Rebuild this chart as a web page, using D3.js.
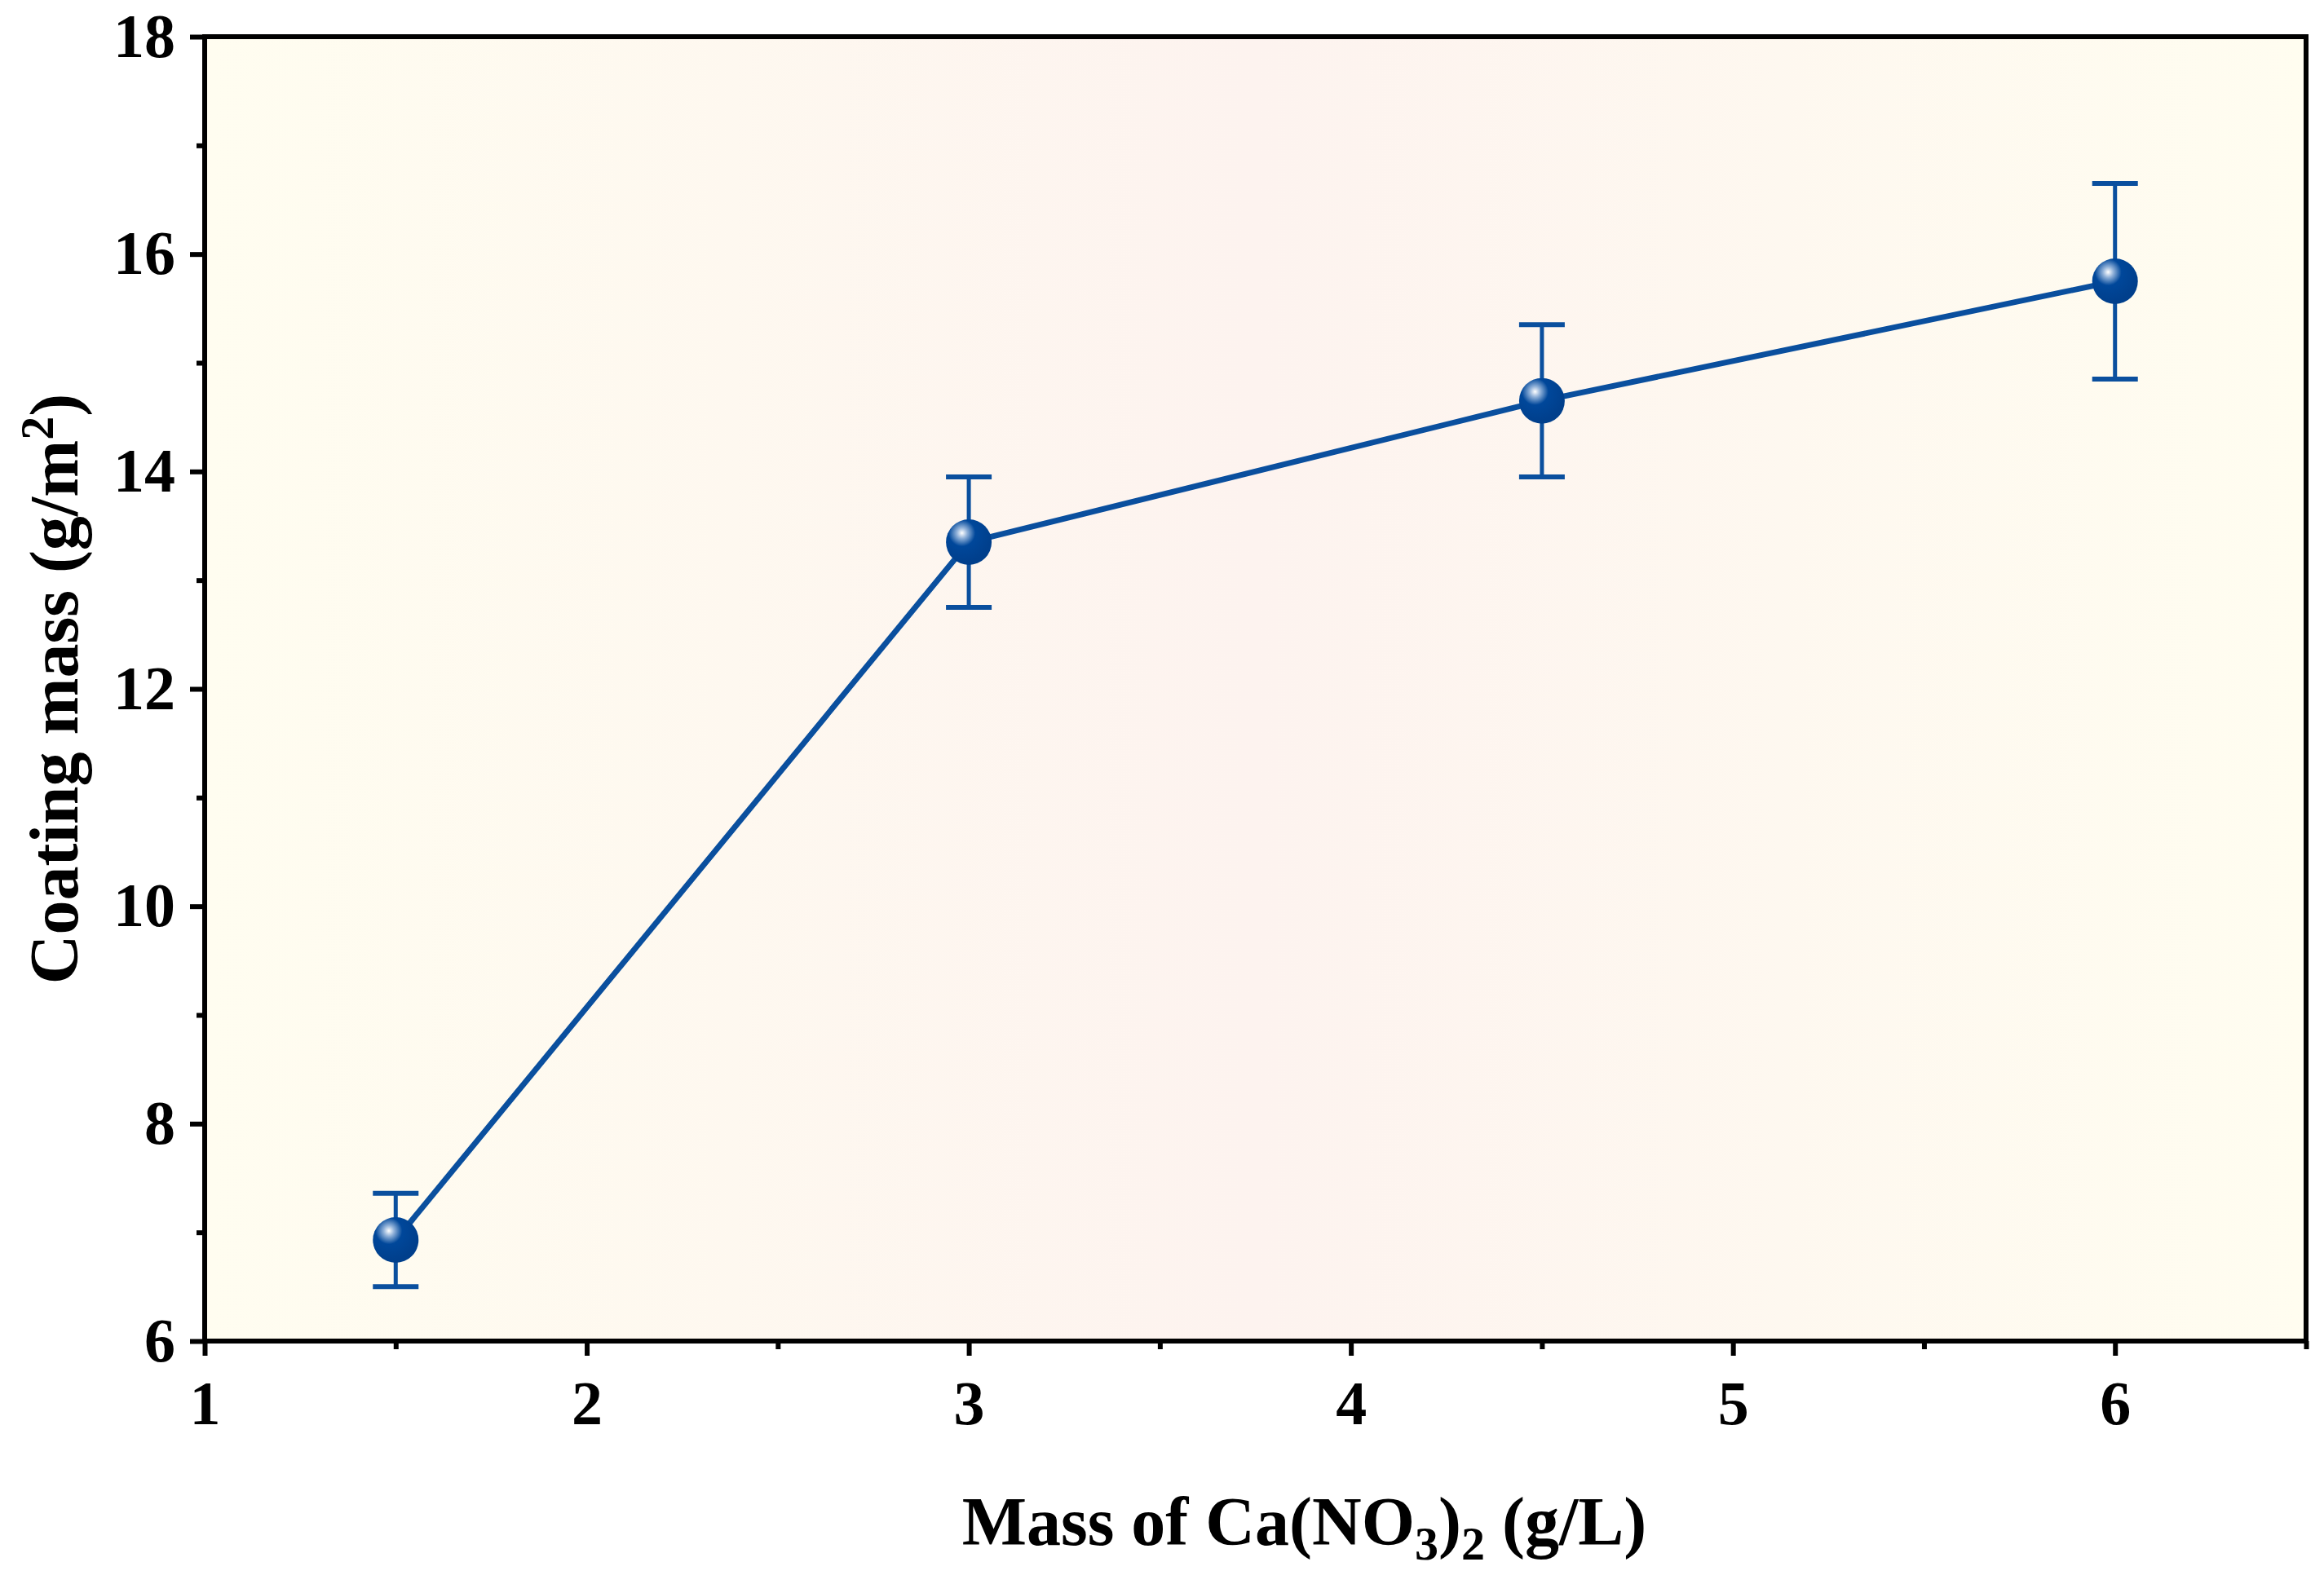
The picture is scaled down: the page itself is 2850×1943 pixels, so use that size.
<!DOCTYPE html><html><head><meta charset="utf-8">
<script src="https://cdn.jsdelivr.net/npm/d3@7"></script>
<style>body{margin:0;background:#fff}</style></head><body>
<svg id="c" width="2850" height="1943"></svg>
<script>
const xValues=[1.5,3,4.5,6];
const yValues=[6.93,13.35,14.65,15.75];
const yErr=[0.43,0.6,0.7,0.9];
const xTicks=[1,2,3,4,5,6];
const yTicks=[6,8,10,12,14,16,18];
const W=2850,H=1943,m={l:251,t:45,r:2828,b:1645};
const svg=d3.select("#c");
const x=d3.scaleLinear().domain([1,6.5]).range([m.l,m.r]);
const y=d3.scaleLinear().domain([6,18]).range([m.b,m.t]);
const defs=svg.append("defs");
const lg=defs.append("linearGradient").attr("id","bg");
lg.append("stop").attr("offset","0%").attr("stop-color","#fffdf0");
lg.append("stop").attr("offset","50%").attr("stop-color","#fdf3ef");
lg.append("stop").attr("offset","100%").attr("stop-color","#fffdf0");
const rg=defs.append("radialGradient").attr("id","ball").attr("cx","35%").attr("cy","30%").attr("r","65%");
rg.append("stop").attr("offset","0%").attr("stop-color","#ffffff");
rg.append("stop").attr("offset","18%").attr("stop-color","#8fb0d8");
rg.append("stop").attr("offset","45%").attr("stop-color","#00479a");
rg.append("stop").attr("offset","100%").attr("stop-color","#003f8c");
svg.append("rect").attr("x",m.l).attr("y",m.t).attr("width",m.r-m.l).attr("height",m.b-m.t).attr("fill","url(#bg)");
const font="'Liberation Serif','Times New Roman',serif";
const xa=svg.append("g").attr("transform",`translate(0,${m.b})`)
 .call(d3.axisBottom(x).tickValues(xTicks).tickSize(18).tickPadding(30).tickFormat(d3.format("d")));
const xm=svg.append("g").attr("transform",`translate(0,${m.b})`)
 .call(d3.axisBottom(x).tickValues([1.5,2.5,3.5,4.5,5.5,6.5]).tickSize(10).tickFormat(""));
const ya=svg.append("g").attr("transform",`translate(${m.l},0)`)
 .call(d3.axisLeft(y).tickValues(yTicks).tickSize(18).tickPadding(18).tickFormat(d3.format("d")));
const ym=svg.append("g").attr("transform",`translate(${m.l},0)`)
 .call(d3.axisLeft(y).tickValues([7,9,11,13,15,17]).tickSize(10).tickFormat(""));
[xa,xm,ya,ym].forEach(g=>{g.select(".domain").remove();g.selectAll("line").attr("stroke","#000").attr("stroke-width",6);
 g.selectAll("text").attr("font-family",font).attr("font-weight","bold").attr("font-size",76).attr("fill","#000");});
svg.append("rect").attr("x",m.l).attr("y",m.t).attr("width",m.r-m.l).attr("height",m.b-m.t).attr("fill","none").attr("stroke","#000").attr("stroke-width",6);
const col="#0a4f9e";
svg.append("path").datum(xValues.map((v,i)=>[v,yValues[i]])).attr("fill","none").attr("stroke",col).attr("stroke-width",7)
 .attr("d",d3.line().x(d=>x(d[0])).y(d=>y(d[1])));
const g=svg.append("g").selectAll("g").data(xValues).join("g");
g.append("line").attr("x1",d=>x(d)).attr("x2",d=>x(d)).attr("y1",(d,i)=>y(yValues[i]-yErr[i])).attr("y2",(d,i)=>y(yValues[i]+yErr[i])).attr("stroke",col).attr("stroke-width",5);
[-1,1].forEach(s=>g.append("line").attr("x1",d=>x(d)-28).attr("x2",d=>x(d)+28)
 .attr("y1",(d,i)=>y(yValues[i]+s*yErr[i])).attr("y2",(d,i)=>y(yValues[i]+s*yErr[i])).attr("stroke",col).attr("stroke-width",6));
g.append("circle").attr("cx",d=>x(d)).attr("cy",(d,i)=>y(yValues[i])).attr("r",28).attr("fill","url(#ball)");
svg.append("text").attr("x",(m.l+m.r)/2+60).attr("y",1895).attr("text-anchor","middle").attr("font-family",font).attr("font-weight","bold").attr("font-size",84)
 .html('Mass of Ca(NO<tspan dy="18" font-size="58">3</tspan><tspan dy="-18">)</tspan><tspan dy="18" font-size="58">2</tspan><tspan dy="-18"> (g/L)</tspan>');
svg.append("text").attr("transform",`translate(95,${(m.t+m.b)/2}) rotate(-90)`).attr("text-anchor","middle").attr("font-family",font).attr("font-weight","bold").attr("font-size",84)
 .html('Coating mass (g/m<tspan dy="-30" font-size="58">2</tspan><tspan dy="30">)</tspan>');
</script></body></html>
